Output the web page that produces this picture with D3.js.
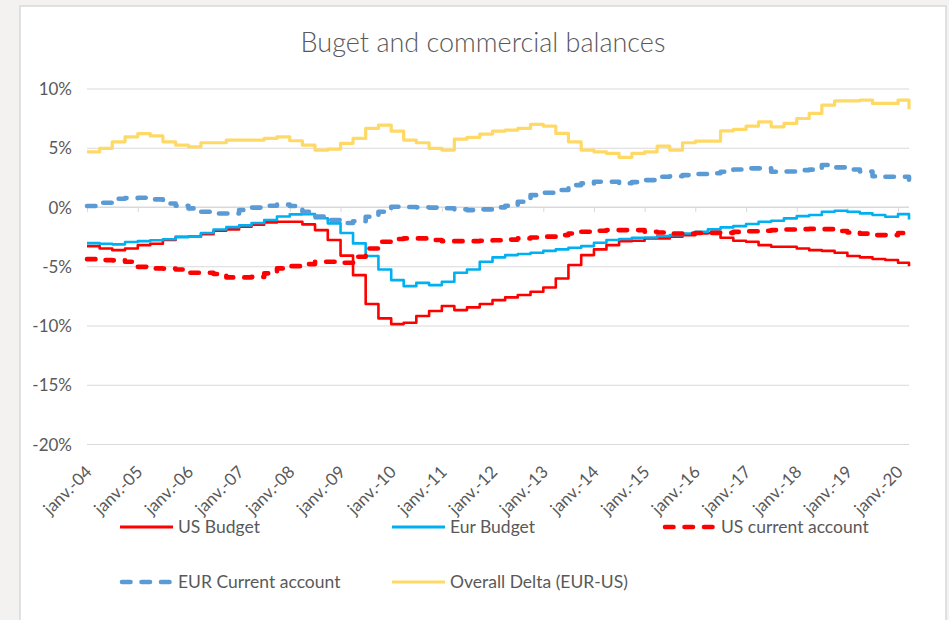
<!DOCTYPE html>
<html>
<head>
<meta charset="utf-8">
<script src="https://cdn.jsdelivr.net/npm/d3@7"></script>
<style>
  html, body { margin: 0; padding: 0; background: #f3f2f0; }
  svg { display: block; }
  text { font-family: Lato, "Open Sans", sans-serif; fill: #595959; }
</style>
</head>
<body>
<svg id="chart" width="949" height="620"></svg>
<script>
// Quarterly observations, first quarter of 2004 to first quarter of 2020, plus the last monthly reading.
const firstQuarter = "2004-01-01";
const lastQuarter = "2020-01-01";
const lastReading = "2020-03-20";

const usBudget = [
  -3.3, -3.5, -3.64, -3.5, -3.22, -3.1, -2.79, -2.51, -2.5, -2.29, -2.0, -1.89, -1.67, -1.5, -1.3, -1.25,
  -1.25, -1.47, -1.95, -2.79, -4.1, -5.75, -8.19, -9.4, -9.88, -9.77, -9.2, -8.78, -8.36, -8.7, -8.47, -8.19,
  -7.86, -7.63, -7.43, -7.15, -6.79, -6.03, -4.9, -4.06, -3.58, -3.22, -2.88, -2.85, -2.65, -2.65, -2.51, -2.37,
  -2.23, -2.2, -2.6, -2.85, -2.93, -3.22, -3.36, -3.36, -3.5, -3.64, -3.7, -3.86, -4.14, -4.25, -4.39, -4.47,
  -4.7, -4.99
];
const eurBudget = [
  -3.05, -3.1, -3.15, -2.95, -2.88, -2.8, -2.72, -2.55, -2.5, -2.2, -1.9, -1.7, -1.55, -1.35, -1.1, -0.8,
  -0.62, -0.6, -0.95, -1.38, -2.2, -3.07, -4.14, -5.27, -6.17, -6.68, -6.4, -6.59, -6.31, -5.55, -5.27, -4.62,
  -4.25, -4.06, -3.97, -3.86, -3.7, -3.58, -3.44, -3.3, -3.02, -2.79, -2.7, -2.6, -2.57, -2.46, -2.37, -2.23,
  -2.09, -1.89, -1.72, -1.61, -1.44, -1.25, -1.16, -0.96, -0.77, -0.68, -0.4, -0.32, -0.4, -0.54, -0.68, -0.82,
  -0.6, -1.05
];
const usCurrentAccount = [
  -4.4, -4.48, -4.5, -4.62, -5.05, -5.18, -5.2, -5.27, -5.55, -5.55, -5.66, -5.94, -5.94, -5.9, -5.6, -5.18,
  -4.99, -4.82, -4.62, -4.62, -4.7, -4.2, -3.5, -2.93, -2.7, -2.65, -2.65, -2.79, -2.88, -2.88, -2.88, -2.85,
  -2.8, -2.75, -2.65, -2.57, -2.5, -2.37, -2.23, -2.09, -2.0, -1.95, -1.95, -1.95, -2.09, -2.15, -2.23, -2.25,
  -2.2, -2.18, -2.18, -2.1, -2.05, -2.0, -1.95, -1.9, -1.87, -1.85, -1.87, -2.03, -2.15, -2.25, -2.37, -2.37,
  -2.2, -2.05
];
const eurCurrentAccount = [
  0.08, 0.36, 0.7, 0.75, 0.78, 0.64, 0.3, 0.1, -0.12, -0.4, -0.55, -0.55, -0.25, -0.05, 0.1, 0.2,
  0.08, -0.4, -0.8, -1.1, -1.35, -1.2, -0.82, -0.4, 0.02, 0.0, -0.03, -0.05, -0.1, -0.2, -0.26, -0.2,
  -0.03, 0.1, 0.44, 1.0, 1.2, 1.43, 1.85, 1.99, 2.13, 2.13, 2.0, 2.1, 2.27, 2.55, 2.6, 2.69,
  2.78, 2.85, 2.97, 3.17, 3.26, 3.26, 2.97, 3.0, 3.11, 3.15, 3.54, 3.34, 3.17, 3.0, 2.6, 2.55,
  2.55, 2.3
];
const overallDelta = [
  4.66, 4.95, 5.5, 5.92, 6.2, 6.0, 5.5, 5.22, 5.08, 5.42, 5.42, 5.65, 5.65, 5.65, 5.79, 5.92,
  5.59, 5.22, 4.8, 4.89, 5.37, 5.79, 6.63, 6.91, 6.4, 5.65, 5.42, 4.94, 4.8, 5.73, 5.87, 6.15,
  6.4, 6.49, 6.63, 6.97, 6.83, 6.21, 5.5, 4.8, 4.66, 4.52, 4.19, 4.52, 4.66, 5.14, 4.8, 5.42,
  5.56, 5.56, 6.43, 6.55, 6.83, 7.19, 6.77, 7.05, 7.47, 7.9, 8.6, 8.96, 8.96, 9.02, 8.74, 8.74,
  9.02, 8.24
];

const seriesNames = ["US Budget", "Eur Budget", "US current account", "EUR Current account", "Overall Delta (EUR-US)"];
const yTicks = [10, 5, 0, -5, -10, -15, -20];
const xTickYears = [2004, 2005, 2006, 2007, 2008, 2009, 2010, 2011, 2012, 2013, 2014, 2015, 2016, 2017, 2018, 2019, 2020];
const xTickLabels = ["janv.-04", "janv.-05", "janv.-06", "janv.-07", "janv.-08", "janv.-09", "janv.-10", "janv.-11",
  "janv.-12", "janv.-13", "janv.-14", "janv.-15", "janv.-16", "janv.-17", "janv.-18", "janv.-19", "janv.-20"];
const chartTitle = "Buget and commercial balances";

// Series styling
const styles = [
  { values: usBudget, color: "#ff0000", width: 2.6, dash: null },
  { values: eurBudget, color: "#00b0f0", width: 2.6, dash: null },
  { values: usCurrentAccount, color: "#ff0000", width: 4.6, dash: "8.5,11" },
  { values: eurCurrentAccount, color: "#5b9bd5", width: 4.6, dash: "8.5,11" },
  { values: overallDelta, color: "#ffd966", width: 3.2, dash: null }
];

const svg = d3.select("#chart");
const W = 949, H = 620;

// Outer frame
svg.append("rect").attr("x", 0).attr("y", 0).attr("width", W).attr("height", H).attr("fill", "#f3f2f0");
svg.append("rect").attr("x", 20).attr("y", 6).attr("width", 926).attr("height", 630)
  .attr("fill", "#ffffff").attr("stroke", "#d9d9d9").attr("stroke-width", 1.5);

const plot = { left: 87, right: 909, top: 88.5, bottom: 444 };

const parse = d3.utcParse("%Y-%m-%d");
const quarters = d3.utcMonth.every(3).range(parse(firstQuarter), d3.utcMonth.offset(parse(lastQuarter), 1));
const dates = quarters.concat([parse(lastReading)]);

const x = d3.scaleUtc().domain([parse(firstQuarter), parse(lastReading)]).range([plot.left, plot.right]);
const y = d3.scaleLinear().domain([-20, 10]).range([plot.bottom, plot.top]);

// Title
svg.append("text")
  .attr("x", 483).attr("y", 52)
  .attr("text-anchor", "middle")
  .style("font-size", "27px").style("font-weight", 300)
  .text(chartTitle);

// Horizontal gridlines and percentage labels
const yAxis = d3.axisLeft(y).tickValues(yTicks).tickSize(-(plot.right - plot.left)).tickPadding(15)
  .tickFormat(d => d + "%");
const gy = svg.append("g").attr("transform", `translate(${plot.left},0)`).call(yAxis);
gy.select(".domain").remove();
gy.selectAll(".tick line").attr("stroke", "#d9d9d9").attr("stroke-width", 1);
gy.selectAll(".tick text").attr("dy", "0.36em").style("font-size", "17px").style("font-family", "Lato, sans-serif").attr("fill", "#595959");

// Year tick marks along the zero line
const tickDates = xTickYears.map(yr => new Date(Date.UTC(yr, 0, 1)));
const xAxis = d3.axisBottom(x).tickValues(tickDates).tickSize(5).tickFormat("");
const gx = svg.append("g").attr("transform", `translate(0,${y(0)})`).call(xAxis);
gx.select(".domain").attr("stroke", "#d9d9d9").attr("d", `M${plot.left},0H${plot.right}`);
gx.selectAll(".tick line").attr("stroke", "#d9d9d9");

// Rotated date labels below the plot
svg.append("g").selectAll("text")
  .data(tickDates)
  .join("text")
  .attr("transform", d => `translate(${x(d) + 6},${plot.bottom + 29}) rotate(-45)`)
  .attr("text-anchor", "end")
  .style("font-size", "17px")
  .text((d, i) => xTickLabels[i]);

// Series lines
const line = d3.line()
  .x((d, i) => x(dates[i]))
  .y(d => y(d))
  .curve(d3.curveStepAfter);

const gLines = svg.append("g");
styles.forEach(s => {
  gLines.append("path")
    .datum(s.values)
    .attr("d", line)
    .attr("fill", "none")
    .attr("stroke", s.color)
    .attr("stroke-width", s.width)
    .attr("stroke-linejoin", "round")
    .attr("stroke-linecap", s.dash ? "round" : "butt")
    .attr("stroke-dasharray", s.dash);
});

// Legend
const legendPos = [
  { x: 120, y: 527 }, { x: 392, y: 527 }, { x: 663, y: 527 },
  { x: 120, y: 582 }, { x: 392, y: 582 }
];
const gLegend = svg.append("g");
styles.forEach((s, i) => {
  const p = legendPos[i];
  gLegend.append("line")
    .attr("x1", p.x + (s.dash ? 2 : 0)).attr("x2", p.x + 53)
    .attr("y1", p.y).attr("y2", p.y)
    .attr("stroke", s.color)
    .attr("stroke-width", s.dash ? 4.6 : 3.2)
    .attr("stroke-linecap", s.dash ? "round" : "butt")
    .attr("stroke-dasharray", s.dash);
  gLegend.append("text")
    .attr("x", p.x + 58).attr("y", p.y)
    .attr("dy", "0.36em")
    .style("font-size", "17.5px")
    .text(seriesNames[i]);
});
</script>
</body>
</html>
